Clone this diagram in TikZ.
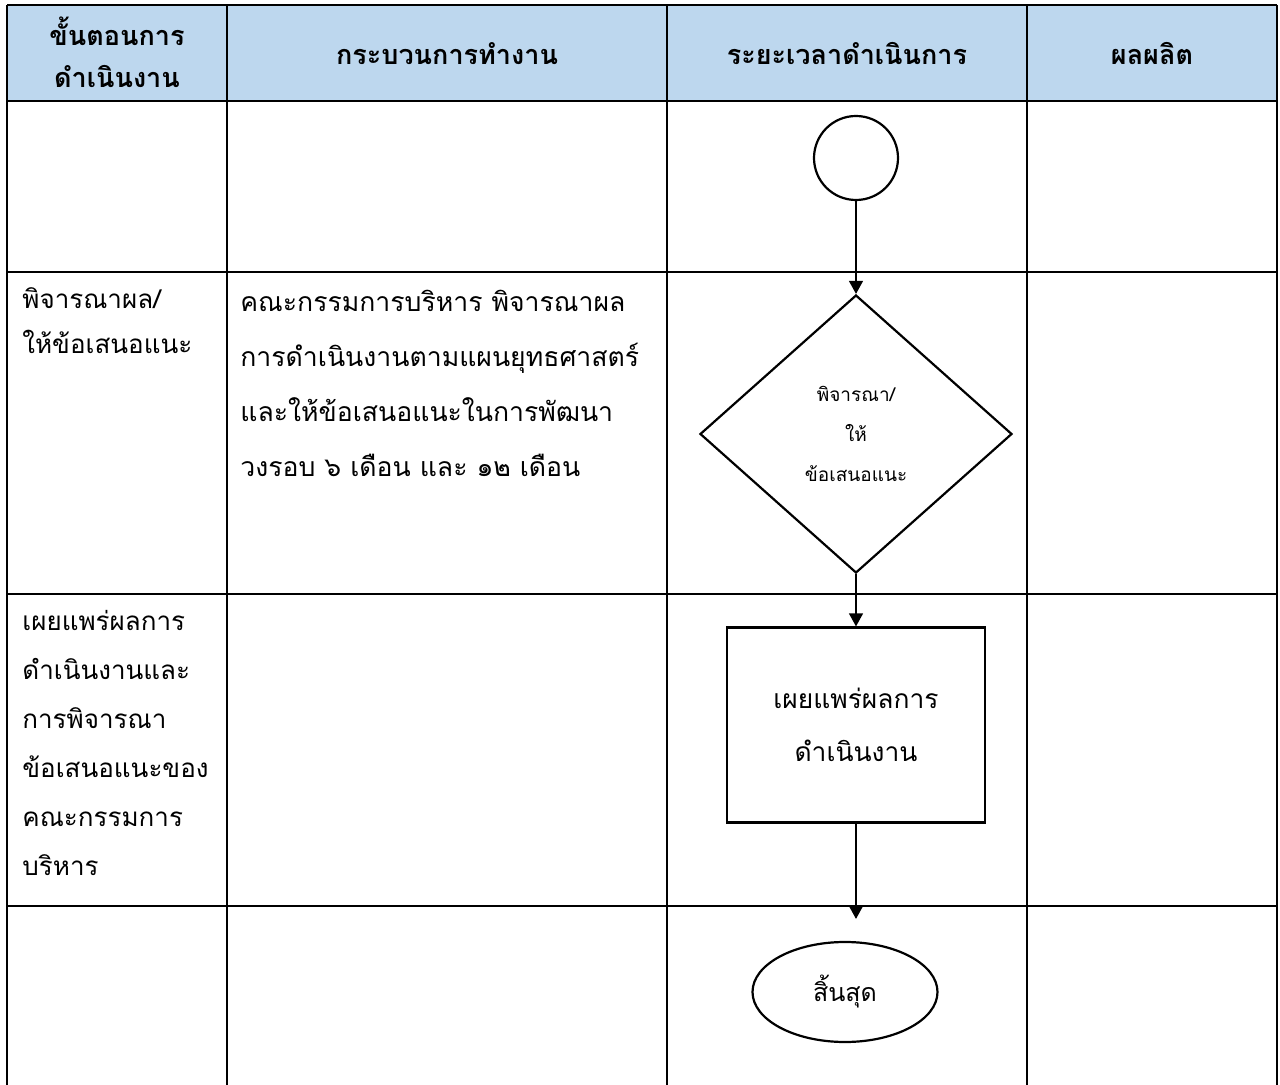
\documentclass[tikz,border=0pt]{standalone}
\usepackage{fontspec}
\newfontfamily\thaifont[Script=Thai]{Loma}
\usetikzlibrary{shapes.geometric,arrows.meta}
\definecolor{headblue}{RGB}{189,215,238}

\begin{document}
\begin{tikzpicture}[x=0.5pt,y=-0.5pt,
    font=\thaifont\fontsize{13.3}{27.5}\selectfont,
    every node/.style={inner sep=0pt},
    grid/.style={line width=1.2pt},
    head/.style={font=\thaifont\bfseries\fontsize{13.5}{21}\selectfont, align=center},
    cell/.style={anchor=north west, align=left},
    stepcell/.style={cell, font=\thaifont\fontsize{13}{24.5}\selectfont},
    shapeline/.style={draw, line width=1.1pt},
    flow/.style={line width=0.6pt, -{Triangle[width=7pt,length=6.5pt]}}]
    \useasboundingbox (0,0) rectangle (1280,1085);
    \fill[headblue] (7,5) rectangle (1277,101);
    \foreach \y in {5,101,272,594,906}
        \draw[grid] (7,\y) -- (1277,\y);
    \foreach \x in {7,227,667,1027,1277}
        \draw[grid] (\x,5) -- (\x,1085);

    % header
    \node[head] (hstep) at (117,52) {ขั้นตอนการ\\ดำเนินงาน};
    \node[head] (hproc) at (447,54) {กระบวนการทำงาน};
    \node[head] (htime) at (847,54) {ระยะเวลาดำเนินการ};
    \node[head] (hout) at (1152,54) {ผลผลิต};

    % cells
    \node[stepcell, font=\thaifont\fontsize{13}{22.5}\selectfont] (step2) at (22,287) {พิจารณาผล/\\ให้ข้อเสนอแนะ};
    \node[cell] (proc2) at (240,290) {คณะกรรมการบริหาร พิจารณาผล\\การดำเนินงานตามแผนยุทธศาสตร์\\และให้ข้อเสนอแนะในการพัฒนา\\วงรอบ ๖ เดือน และ ๑๒ เดือน};
    \node[stepcell] (step3) at (22,610) {เผยแพร่ผลการ\\ดำเนินงานและ\\การพิจารณา\\ข้อเสนอแนะของ\\คณะกรรมการ\\บริหาร};

    % flow
    \node[shapeline, circle, minimum size=42pt] (start) at (856,158) {};
    \node[shapeline, diamond, minimum width=156pt, minimum height=139pt, align=center,
        font=\thaifont\fontsize{9.5}{20}\selectfont] (review) at (856,434) {พิจารณา/\\ให้\\ข้อเสนอแนะ};
    \node[shapeline, minimum width=129pt, minimum height=97.5pt, align=center,
        font=\thaifont\fontsize{13.2}{26.5}\selectfont] (publish) at (856,725) {เผยแพร่ผลการ\\ดำเนินงาน};
    \node[shapeline, ellipse, minimum width=92.5pt, minimum height=50pt,
        font=\thaifont\fontsize{12.5}{20}\selectfont] (finish) at (845,992) {สิ้นสุด};

    \draw[flow] (start) -- (review);
    \draw[flow] (review) -- (publish);
    \draw[flow, shorten >=11pt] (publish) -- (publish |- finish.north);
\end{tikzpicture}
\end{document}
